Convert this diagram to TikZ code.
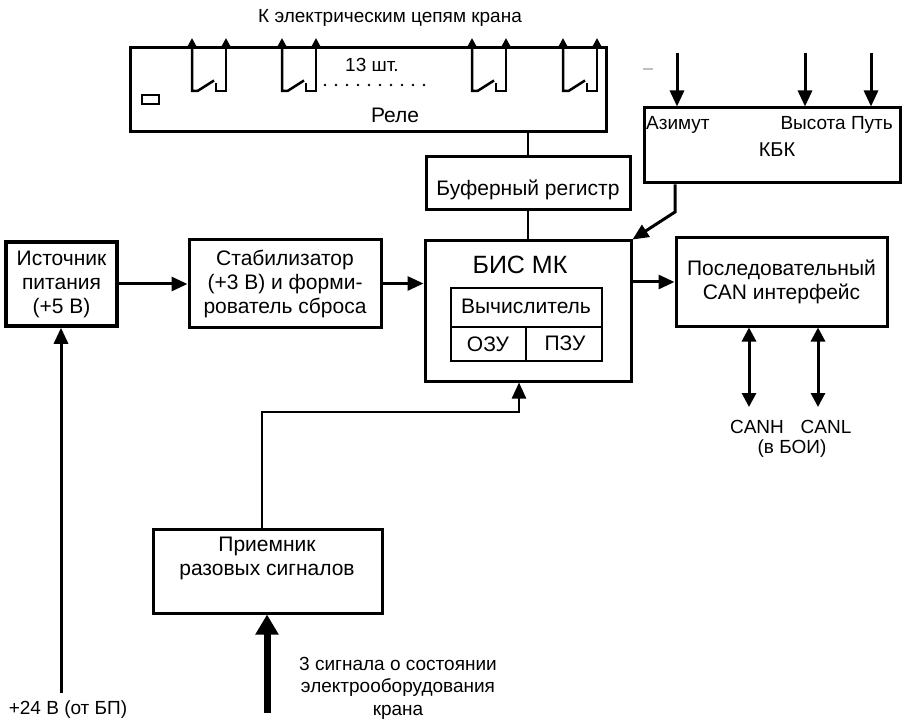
\documentclass[tikz,border=0pt]{standalone}
\usepackage{fontspec}
\setmainfont{Liberation Sans}
\usetikzlibrary{arrows.meta, calc}

\begin{document}
\begin{tikzpicture}[x=1pt, y=-1pt,
		blk/.style = {draw, line width=3pt, inner sep=0pt, align=center, font=\fontsize{21}{24}\selectfont},
		btxt/.style = {inner sep=0pt, align=center, font=\fontsize{21}{24}\selectfont},
		lbl/.style = {inner sep=0pt, align=center, font=\fontsize{19}{22.5}\selectfont},
		wire/.style = {line width=3pt},
		thinwire/.style = {line width=1.6pt},
		arr/.style = {wire, -{Triangle[length=16pt, width=14pt]}},
		darr/.style = {wire, {Triangle[length=14pt, width=14pt]}-{Triangle[length=14pt, width=14pt]}},
		carr/.style = {line width=2.5pt, -{Triangle[length=10pt, width=10pt]}}
	]
		%frame of the picture
		\useasboundingbox (0,0) rectangle (902,719);
		
		%relay block
		\node [lbl] (title) at (390,18) {К электрическим цепям крана};
		\node [blk, minimum width=476pt, minimum height=84pt] (rele) at (368,90) {};
		\node [btxt] (reletxt) at (395,115) {Реле};
		\node [lbl] (count) at (372,65) {13 шт.};
		\draw [thinwire] (142,95) rectangle (159,104);
		
		%contacts
		\foreach \x in {192,282,472,563} {
			\draw [carr] (\x+22,80.5) -- (\x+5.5,91) -- (\x,91) -- (\x,38);
			\draw [carr] (\x+24,83) -- (\x+24,91) -- (\x+34,91) -- (\x+34,38);
		}
		\foreach \i in {0,...,9}
			\fill (325+11*\i,85) circle (1.4pt);
		
		%buffer and microcontroller
		\node [blk, minimum width=204pt, minimum height=53pt] (buf) at (528,183.5) {};
		\node [btxt] (buftxt) at (528,190) {Буферный регистр};
		\node [blk, minimum width=206pt, minimum height=140pt] (bis) at (528,311) {};
		\node [btxt, font=\fontsize{25}{28}\selectfont] (bistxt) at (520,265) {БИС МК};
		\draw [thinwire] (451,288) rectangle (602,361);
		\draw [thinwire] (451,327) -- (602,327);
		\draw [thinwire] (526,327) -- (526,361);
		\node [btxt] (vych) at (526,306) {Вычислитель};
		\node [btxt] (ozu) at (488,344) {ОЗУ};
		\node [btxt] (pzu) at (565,343) {ПЗУ};
		
		\draw [thinwire] (buf.north) -- (buf.north |- rele.south);
		\draw [thinwire] (bis.north) -- (buf.south);
		
		%KBK
		\node [blk, minimum width=256pt, minimum height=75pt] (kbk) at (772,145.5) {};
		\node [lbl, anchor=west] (azimut) at (646,125) {Азимут};
		\node [lbl, anchor=east] (vysota) at (893,125) {Высота Путь};
		\node [lbl, font=\fontsize{20}{24}\selectfont] (kbktxt) at (777,150) {КБК};
		\foreach \x in {677,805,871}
			\draw [arr] (\x,53) -- (\x,0 |- kbk.north);
		\draw [gray!50, line width=2pt] (643,69) -- (653,69);
		\coordinate (bend) at (675,212);
		\draw [arr] (bend |- kbk.south) -- (bend) -- (bis.north east);
		
		%power and stabilizer
		\node [blk, line width=3.5pt, minimum width=111pt, minimum height=84pt] (ist) at (61.5,284) {Источник\\питания\\(+5 В)};
		\node [blk, minimum width=192pt, minimum height=87pt] (stab) at (285,283.5) {Стабилизатор\\(+3 В) и форми-\\рователь сброса};
		\draw [arr] (ist.east) -- (ist.east -| stab.west);
		\draw [arr] (stab.east) -- (stab.east -| bis.west);
		
		\coordinate (p24) at (61,693);
		\draw [arr] (p24) -- (p24 |- ist.south);
		\node [lbl] (p24txt) at (68,710) {+24 В (от БП)};
		
		%CAN
		\node [blk, minimum width=211pt, minimum height=88pt] (can) at (781.5,282) {Последовательный\\CAN интерфейс};
		\draw [arr] (can.west -| bis.east) -- (can.west);
		\coordinate (canh) at (749,407);
		\coordinate (canl) at (818,407);
		\draw [darr] (canh |- can.south) -- (canh);
		\draw [darr] (canl |- can.south) -- (canl);
		\node [lbl] (canhtxt) at (757,427) {CANH};
		\node [lbl] (canltxt) at (826,427) {CANL};
		\node [lbl] (boi) at (792,449) {(в БОИ)};
		
		%single signals
		\node [blk, minimum width=229pt, minimum height=84pt] (priem) at (267.5,571) {};
		\node [btxt] (priemtxt) at (267,558) {Приемник\\разовых сигналов};
		\coordinate (turn) at (262,412);
		\draw [line width=2.4pt, -{Triangle[length=16pt, width=14pt]}] (turn |- priem.north) -- (turn) -| ([xshift=-9pt]bis.south);
		\coordinate (sig) at (267,713);
		\draw [line width=7pt, -{Triangle[length=20pt, width=22pt]}] (sig) -- (sig |- priem.south);
		\node [lbl] (sigtxt) at (398,688) {3 сигнала о состоянии\\электрооборудования\\крана};
	\end{tikzpicture}
\end{document}
